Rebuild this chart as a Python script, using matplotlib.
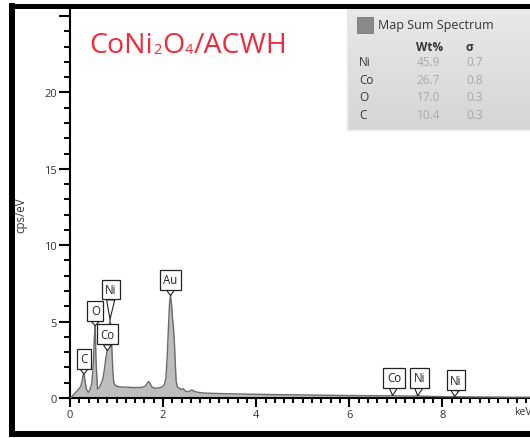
import matplotlib
matplotlib.use("Agg")
import matplotlib.pyplot as plt
import numpy as np
from matplotlib.lines import Line2D
from matplotlib.patches import Rectangle
from matplotlib.ticker import MultipleLocator

plt.rcParams['font.family'] = ['Open Sans', 'DejaVu Sans']

# EDS sum spectrum (energy in keV, intensity in cps/eV)
energy_kev = [0.00, 0.04, 0.10, 0.15, 0.19, 0.23, 0.26, 0.28, 0.30, 0.32, 0.35, 0.39,
              0.43, 0.47, 0.50, 0.52, 0.54, 0.56, 0.59, 0.63, 0.67, 0.71, 0.74, 0.77,
              0.80, 0.82, 0.84, 0.86, 0.88, 0.90, 0.92, 0.94, 0.97, 1.02, 1.10, 1.25,
              1.40, 1.55, 1.62, 1.66, 1.69, 1.72, 1.76, 1.82, 1.90, 1.98, 2.03, 2.06,
              2.09, 2.12, 2.14, 2.16, 2.18, 2.20, 2.22, 2.24, 2.26, 2.28, 2.31, 2.35,
              2.39, 2.43, 2.47, 2.52, 2.57, 2.62, 2.66, 2.71, 2.78, 2.90, 3.10, 3.50,
              4.00, 4.50, 5.00, 5.50, 6.00, 6.50, 6.85, 6.93, 7.00, 7.20, 7.40, 7.47,
              7.55, 7.80, 8.20, 8.26, 8.33, 8.60, 9.00, 9.50, 9.90]
cps_per_ev = [0.00, 0.10, 0.30, 0.45, 0.60, 0.75, 1.10, 1.50, 1.57, 1.20, 0.60, 0.37,
              0.55, 1.00, 2.20, 3.80, 4.73, 2.40, 0.59, 0.70, 0.95, 1.30, 1.90, 2.60,
              3.10, 3.60, 4.60, 5.15, 4.70, 3.20, 1.80, 1.00, 0.85, 0.75, 0.72, 0.70,
              0.68, 0.70, 0.78, 0.98, 1.08, 0.95, 0.72, 0.64, 0.66, 0.72, 0.90, 1.30,
              2.80, 5.00, 6.30, 6.70, 6.20, 5.30, 4.70, 3.80, 2.40, 1.10, 0.70, 0.65,
              0.55, 0.62, 0.48, 0.40, 0.46, 0.52, 0.45, 0.40, 0.36, 0.32, 0.30, 0.27,
              0.24, 0.22, 0.20, 0.18, 0.16, 0.15, 0.14, 0.17, 0.14, 0.13, 0.12, 0.15,
              0.12, 0.10, 0.08, 0.10, 0.08, 0.07, 0.06, 0.05, 0.05]

# Identified lines: element, line energy, intensity at the line
peak_names = ["C", "O", "Ni", "Co", "Au", "Co", "Ni", "Ni"]
peak_energy = [0.30, 0.54, 0.86, 0.80, 2.16, 6.93, 7.47, 8.26]
peak_height = [1.57, 4.73, 5.15, 3.10, 6.70, 0.17, 0.15, 0.10]
# label box centres (keV, cps/eV)
label_pos = [(0.30, 2.58), (0.545, 5.70), (0.88, 7.10), (0.81, 4.16),
             (2.157, 7.75), (6.96, 1.33), (7.51, 1.33), (8.29, 1.17)]

# Quantification table
quant_elements = ["Ni", "Co", "O", "C"]
quant_wt = ["45.9", "26.7", "17.0", "10.4"]
quant_sigma = ["0.7", "0.8", "0.3", "0.3"]

# Sample name, split into normal text and subscripts
title_parts = [("CoNi", False), ("2", True), ("O", False), ("4", True), ("/ACWH", False)]

W, H = 530, 439
fig = plt.figure(figsize=(W / 100, H / 100), dpi=100)
fig.patch.set_facecolor("white")


def fx(px):
    return px / W


def fy(py):
    return 1 - py / H


ax = fig.add_axes([fx(70), fy(399), fx(460), (399 - 8) / H])
ax.set_xlim(0, 460 / 46.55)
ax.set_ylim(0, (399 - 8) / 15.28)

ax.fill_between(energy_kev, cps_per_ev, 0, color="#bdbdbd", lw=0, zorder=2)
ax.plot(energy_kev, cps_per_ev, color="#6a6a6a", lw=1.0, zorder=3)

for s in ["top", "right"]:
    ax.spines[s].set_visible(False)
for s in ["left", "bottom"]:
    ax.spines[s].set_linewidth(1.5)
    ax.spines[s].set_color("black")

ax.xaxis.set_major_locator(MultipleLocator(2))
ax.xaxis.set_minor_locator(MultipleLocator(0.2))
ax.tick_params(axis="x", which="major", direction="out", length=6.5, width=1.5,
               labelsize=8, labelcolor="#333333", pad=1.5)
ax.tick_params(axis="x", which="minor", direction="out", length=3.6, width=1.4)
ax.tick_params(axis="y", which="major", direction="out", length=8, width=1.5,
               labelsize=8, labelcolor="#333333", pad=1.5)
ax.tick_params(axis="y", which="minor", direction="out", length=4.5, width=1.4)
ax.set_yticks([0, 5, 10, 15, 20, 25])
ax.set_yticklabels(["0", "5", "10", "15", "20", ""])
ax.set_yticks(np.arange(0, 26, 1), minor=True)
ax.set_xticks([0, 2, 4, 6, 8])

fig.text(fx(21), fy(215), "cps/eV", fontsize=8.3, color="#333333", rotation=90,
         ha="center", va="center")

for name, e, h, (bx, by) in zip(peak_names, peak_energy, peak_height, label_pos):
    ax.annotate(name, xy=(e, h), xytext=(bx, by), ha="center", va="center",
                fontsize=8.3, color="#222222", zorder=6,
                bbox=dict(boxstyle="square,pad=0.3", fc="white", ec="#222222", lw=0.9),
                arrowprops=dict(arrowstyle="wedge,tail_width=0.7,shrink_factor=0.5",
                                fc="white", ec="#222222", lw=0.8, shrinkA=0, shrinkB=0))

fig.text(fx(514), fy(413), "keV", fontsize=7.5, color="#333333", va="center", ha="left")

# sample name with small, lowered subscripts, laid out piece by piece
renderer = fig.canvas.get_renderer()
x_px = 89.0
base_y = 53.0
for txt, is_sub in title_parts:
    if is_sub:
        t = fig.text(fx(x_px), fy(base_y + 1), txt, fontsize=10.5, color="#ef2b3c",
                     ha="left", va="baseline")
    else:
        t = fig.text(fx(x_px), fy(base_y), txt, fontsize=20.5, color="#ef2b3c",
                     ha="left", va="baseline")
    bb = t.get_window_extent(renderer)
    x_px += bb.width + 0.5

# quantification panel with soft shadow and gradient fill
for i, a in enumerate([0.06, 0.05, 0.04, 0.03]):
    fig.add_artist(Rectangle((fx(349 - i), fy(130 + i)), fx(200), (130 + i - 9) / H,
                             transform=fig.transFigure, fc="black", ec="none",
                             alpha=a, zorder=8))
pax = fig.add_axes([fx(349), fy(128), fx(190), (128 - 9) / H], zorder=9)
grad = np.linspace(0, 1, 64).reshape(-1, 1)
pax.imshow(grad, aspect="auto", cmap=matplotlib.colors.LinearSegmentedColormap.from_list(
    "panel", ["#e9e9e9", "#d6d6d6"]), extent=[0, 1, 1, 0])
pax.set_xlim(0, 1)
pax.set_ylim(1, 0)
pax.axis("off")

fig.add_artist(Rectangle((fx(357), fy(33.5)), fx(16), 16 / H, transform=fig.transFigure,
                         fc="#898989", ec="#777777", lw=0.6, zorder=10))
fig.text(fx(378), fy(26), "Map Sum Spectrum", fontsize=9, color="#333333",
         va="center", ha="left", zorder=11)
fig.text(fx(416.5), fy(47.5), "Wt%", fontsize=8.5, fontweight="bold", color="#333333",
         va="center", ha="left", zorder=11)
fig.text(fx(466), fy(47.5), "σ", fontsize=8.5, fontweight="bold", color="#333333",
         va="center", ha="left", zorder=11)
row_y = [62.3, 80.0, 97.7, 115.5]
for el, wt, sg, ry in zip(quant_elements, quant_wt, quant_sigma, row_y):
    fig.text(fx(359), fy(ry), el, fontsize=8.5, color="#333333", va="center",
             ha="left", zorder=11)
    fig.text(fx(416.5), fy(ry), wt, fontsize=8.5, color="#a8a8a8", va="center",
             ha="left", zorder=11)
    fig.text(fx(466.5), fy(ry), sg, fontsize=8.5, color="#a8a8a8", va="center",
             ha="left", zorder=11)

# heavy frame on left, top and bottom
fig.add_artist(Line2D([fx(12), fx(12)], [fy(4), fy(438)], transform=fig.transFigure,
                      color="black", lw=4.3, solid_capstyle="butt", zorder=20))
fig.add_artist(Line2D([fx(9), fx(530)], [fy(6.5), fy(6.5)], transform=fig.transFigure,
                      color="black", lw=3.6, solid_capstyle="butt", zorder=20))
fig.add_artist(Line2D([fx(9), fx(530)], [fy(435), fy(435)], transform=fig.transFigure,
                      color="black", lw=4.3, solid_capstyle="butt", zorder=20))

fig.savefig("out.png", dpi=100)
